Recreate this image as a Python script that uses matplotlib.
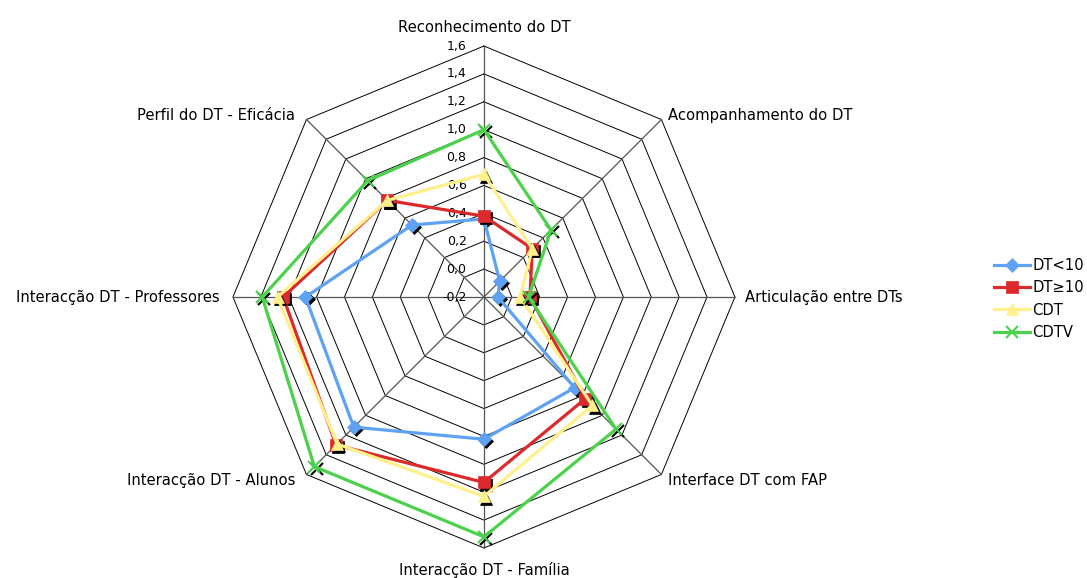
import numpy as np
import matplotlib
matplotlib.use("Agg")
import matplotlib.pyplot as plt
from matplotlib.transforms import offset_copy

categories = [
    "Reconhecimento do DT",
    "Acompanhamento do DT",
    "Articulação entre DTs",
    "Interface DT com FAP",
    "Interacção DT - Família",
    "Interacção DT - Alunos",
    "Interacção DT - Professores",
    "Perfil do DT - Eficácia",
]

dt_menor_10 = [0.36, -0.04, -0.10, 0.72, 0.82, 1.12, 1.08, 0.53]
dt_maior_10 = [0.38, 0.29, 0.13, 0.83, 1.13, 1.30, 1.24, 0.78]
cdt = [0.68, 0.29, 0.06, 0.90, 1.23, 1.29, 1.28, 0.78]
cdtv = [1.00, 0.48, 0.12, 1.14, 1.52, 1.52, 1.39, 0.98]

series_names = ["DT<10", "DT≥10", "CDT", "CDTV"]
series_values = [dt_menor_10, dt_maior_10, cdt, cdtv]

tick_values = [-0.2, 0.0, 0.2, 0.4, 0.6, 0.8, 1.0, 1.2, 1.4, 1.6]
tick_labels = ["-0,2", "0,0", "0,2", "0,4", "0,6", "0,8", "1,0", "1,2", "1,4", "1,6"]

colors = ["#5fa2f4", "#dc2a2c", "#fff08c", "#4bd14b"]
markers = ["D", "s", "^", "x"]
msizes = [7, 9, 9, 9]

r_min, r_max = tick_values[0], tick_values[-1]

fig = plt.figure(figsize=(10.87, 5.78), dpi=100)
ax = fig.add_axes([0.2143, 0.0519, 0.4618, 0.8685], projection="polar")
ax.set_theta_offset(np.pi / 2)
ax.set_theta_direction(-1)
ax.set_ylim(r_min, r_max)
ax.grid(False)
ax.spines["polar"].set_visible(False)
ax.set_xticks([])
ax.set_yticks([])
ax.patch.set_visible(False)

n = len(categories)
angles = np.arange(n) * 2 * np.pi / n
closed = np.append(angles, angles[0])

# octagonal rings
for v in tick_values[1:]:
    ax.plot(closed, [v] * (n + 1), color="black", lw=0.7, clip_on=False, zorder=1)

# spokes
for a in angles:
    ax.plot([a, a], [r_min, r_max], color="#555555", lw=0.9, clip_on=False, zorder=1)

# radial tick labels along the top spoke
for v, lab in zip(tick_values, tick_labels):
    ax.annotate(lab, xy=(0, v), xytext=(-12.5, 0), textcoords="offset points",
                ha="right", va="center", fontsize=9, color="black")

# category labels around the outer ring
label_offsets = [
    ((0, 13.5), "center", "center"),
    ((4.7, 3.2), "left", "center"),
    ((7.0, 0), "left", "center"),
    ((4.7, -4.0), "left", "center"),
    ((0, -16.0), "center", "center"),
    ((-8.3, -4.0), "right", "center"),
    ((-9.4, 0), "right", "center"),
    ((-8.3, 3.2), "right", "center"),
]
for a, cat, (off, ha, va) in zip(angles, categories, label_offsets):
    ax.annotate(cat, xy=(a, r_max), xytext=off, textcoords="offset points",
                ha=ha, va=va, fontsize=10.6, color="black", annotation_clip=False)

shadow = offset_copy(ax.transData, fig=fig, x=1.6, y=-1.6, units="points")

handles = []
for i, (name, vals) in enumerate(zip(series_names, series_values)):
    vals_c = np.append(vals, vals[0])
    z = 3 + i * 2
    mew = 1.5 if markers[i] == "x" else 0.5
    ax.plot(angles, vals, ls="none", marker=markers[i], ms=msizes[i],
            color="black", mec="black", mew=mew, transform=shadow,
            clip_on=False, zorder=z)
    (h,) = ax.plot(closed, vals_c, color=colors[i], lw=2.3, marker=markers[i],
                   ms=msizes[i], mfc=colors[i], mec=colors[i], mew=mew,
                   markevery=list(range(n)), clip_on=False, zorder=z + 1,
                   label=name)
    handles.append(h)

fig.legend(handles=handles, labels=series_names, loc="center left",
           bbox_to_anchor=(0.914, 0.483), frameon=False, fontsize=10.6,
           handlelength=2.5, handletextpad=0.15, labelspacing=0.5,
           borderaxespad=0, borderpad=0)

fig.savefig("out.png", dpi=100)
